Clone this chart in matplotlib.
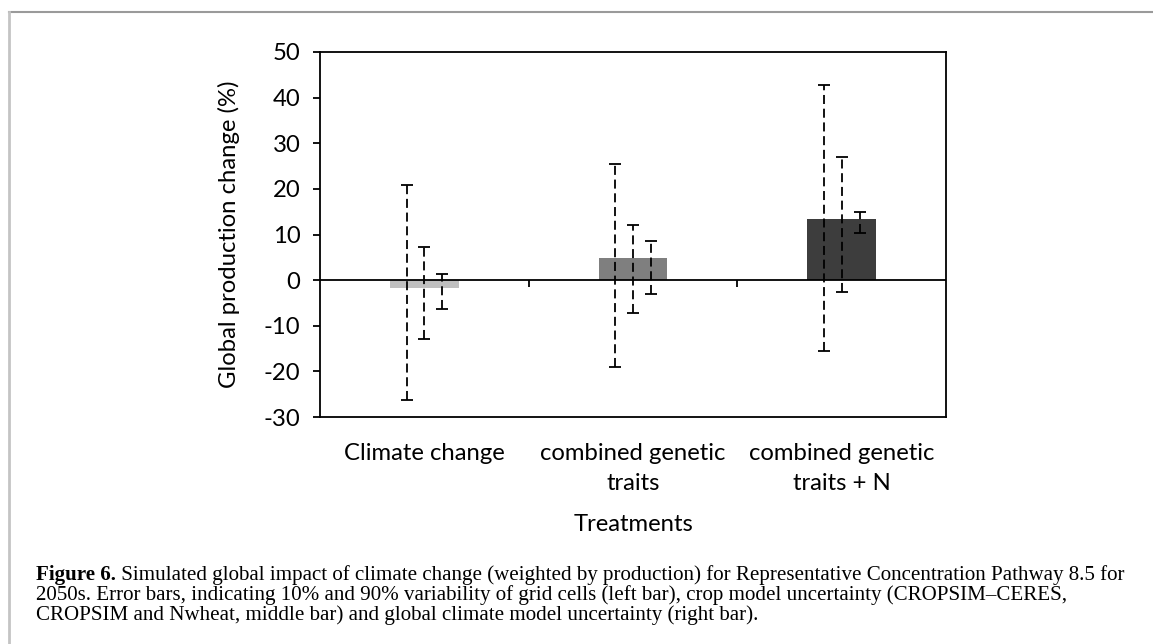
import numpy as np
import matplotlib
matplotlib.use("Agg")
import matplotlib.pyplot as plt
from matplotlib.lines import Line2D

# ---- data ----
categories = ["Climate change", "combined genetic\ntraits", "combined genetic\ntraits + N"]
means = [-1.8, 4.9, 13.5]
grid_low = [-26.3, -19.0, -15.5]
grid_high = [20.8, 25.4, 42.8]
crop_low = [-12.9, -7.3, -2.5]
crop_high = [7.3, 12.1, 27.0]
gcm_low = [-6.4, -3.1, 10.4]
gcm_high = [1.25, 8.6, 15.0]
yticks = [-30, -20, -10, 0, 10, 20, 30, 40, 50]
bar_colors = ["#bfbfbf", "#7f7f7f", "#3d3d3d"]

W, H = 1153, 644
fig = plt.figure(figsize=(W / 100, H / 100), dpi=100)
sans = ["Lato", "DejaVu Sans"]
serif = ["Liberation Serif", "DejaVu Serif"]
fs = 17.2

# page frame lines
fig.add_artist(Line2D([9 / W, 1], [1 - 11.5 / H] * 2, color="#9a9a9a", lw=1.5, transform=fig.transFigure))
fig.add_artist(Line2D([9 / W] * 2, [0, 1 - 11.5 / H], color="#c4c4c4", lw=2, transform=fig.transFigure))

ax = fig.add_axes([320 / W, 1 - 417 / H, 626 / W, 365 / H])
x = np.arange(len(categories))
ax.bar(x, means, width=0.33, color=bar_colors, zorder=2)

means_a = np.array(means)
offsets = [-0.085, 0.0, 0.087]
for off, lo, hi in zip(offsets, [grid_low, crop_low, gcm_low], [grid_high, crop_high, gcm_high]):
    lo = np.array(lo); hi = np.array(hi)
    eb = ax.errorbar(x + off, means_a, yerr=[means_a - lo, hi - means_a], fmt="none",
                     ecolor="black", elinewidth=1.3, capsize=4, capthick=1.3, zorder=4)
    for lc in eb[2]:
        lc.set_linestyle((0, (5, 2.6)))

ax.axhline(0, color="black", lw=1.3, zorder=3)
ax.plot(x[:-1] + 0.5, np.zeros(len(x) - 1), linestyle="none", marker=3, markersize=5,
        markeredgewidth=1.3, color="black", zorder=3)

ax.set_xlim(-0.5, len(categories) - 0.5)
ax.set_ylim(yticks[0], yticks[-1])
ax.set_yticks(yticks)
ax.set_yticklabels([str(v) for v in yticks], family=sans, fontsize=fs)
ax.set_xticks(x)
ax.set_xticklabels(categories, family=sans, fontsize=fs)
for t in ax.get_xticklabels():
    t.set_linespacing(1.5)
ax.tick_params(axis="x", length=0, pad=19)
ax.tick_params(axis="y", direction="out", length=5, width=1.3, pad=9)
for s in ax.spines.values():
    s.set_linewidth(1.3)

ax.set_ylabel("Global production change (%)", family=sans, fontsize=fs)
ax.yaxis.set_label_coords(-0.128, 0.5)
ax.set_xlabel("Treatments", family=sans, fontsize=fs)
ax.xaxis.set_label_coords(0.5, -0.265)

# caption
cap_fs = 15.1
x0 = 36 / W
t1 = fig.text(x0, 1 - 580 / H, "Figure 6.", family=serif, fontweight="bold", fontsize=cap_fs,
              va="baseline", ha="left")
fig.canvas.draw()
bb = t1.get_window_extent()
fig.text(bb.x1 / W, 1 - 580 / H,
         " Simulated global impact of climate change (weighted by production) for Representative Concentration Pathway 8.5 for",
         family=serif, fontsize=cap_fs, va="baseline", ha="left")
fig.text(x0, 1 - 600 / H,
         "2050s. Error bars, indicating 10% and 90% variability of grid cells (left bar), crop model uncertainty (CROPSIM\u2013CERES,",
         family=serif, fontsize=cap_fs, va="baseline", ha="left")
fig.text(x0, 1 - 620 / H,
         "CROPSIM and Nwheat, middle bar) and global climate model uncertainty (right bar).",
         family=serif, fontsize=cap_fs, va="baseline", ha="left")

fig.savefig("out.png", dpi=100)
